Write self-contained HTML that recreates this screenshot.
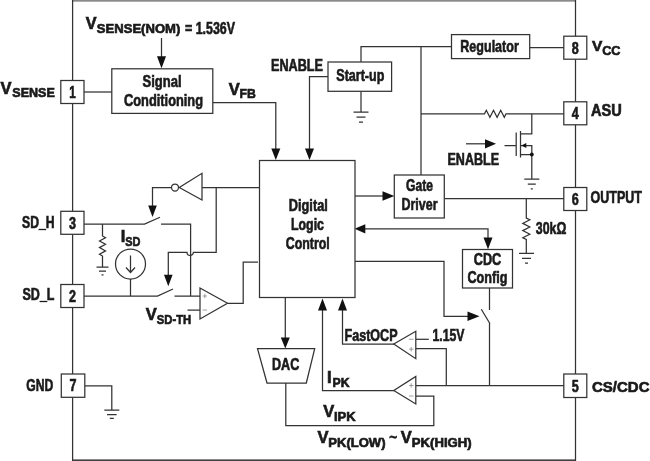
<!DOCTYPE html>
<html>
<head>
<meta charset="utf-8">
<title>Block Diagram</title>
<style>
html,body{margin:0;padding:0;background:#fff;}
body{width:650px;height:461px;overflow:hidden;}
svg{display:block;}
text{font-family:"Liberation Sans",sans-serif;font-weight:bold;fill:#1a1a1a;stroke:#1a1a1a;stroke-width:0.65;}
.w{fill:none;stroke:#333;stroke-width:1.25;}
.b{fill:#fff;stroke:#333;stroke-width:1.25;}
.a{fill:#111;stroke:none;}
.t{fill:none;stroke:#888;stroke-width:0.8;}
</style>
</head>
<body>
<svg style="will-change:transform" width="650" height="461" viewBox="0 0 650 461">
<rect x="0" y="0" width="650" height="461" fill="#fff"/>

<!-- outer frame -->
<g id="frame">
<rect x="72" y="0" width="504" height="1.7" fill="#8a8a8a"/>
<rect x="72" y="459.4" width="504" height="1.6" fill="#404040"/>
<line class="w" x1="72.6" y1="0" x2="72.6" y2="461" stroke="#505050"/>
<line class="w" x1="575.5" y1="0" x2="575.5" y2="461" stroke="#505050"/>
</g>

<!-- wires -->
<g id="wires">
<!-- pin1 to signal conditioning -->
<path class="w" d="M84 92H112"/>
<!-- nominal arrow -->
<path class="w" d="M161.5 38V57"/>
<path class="a" d="M157 56.3H166L161.5 68.3Z"/>
<!-- VFB -->
<path class="w" d="M213 102.5H275.8V150"/>
<path class="a" d="M271.3 148.5H280.3L275.8 160Z"/>
<!-- enable to logic -->
<path class="w" d="M328 76.5H309.5V150"/>
<path class="a" d="M305 148.5H314L309.5 160Z"/>
<!-- startup top to regulator -->
<path class="w" d="M361 62V46.5H452"/>
<!-- startup ground -->
<path class="w" d="M361 91.5V112M353.5 112H368.5M356.5 117H365.5M359 122H363"/>
<!-- bus vertical -->
<path class="w" d="M421 46.5V175"/>
<!-- regulator to pin 8 -->
<path class="w" d="M530 47.5H564"/>
<!-- ASU line w/ resistor -->
<path class="w" d="M421 113.8H484.5L486.3 110.3L489.9 117.3L493.5 110.3L497.1 117.3L500.7 110.3L504.3 117.3L506 113.8H564"/>
<!-- mosfet -->
<path class="w" d="M531.8 113.8V133.8H520.5M520.5 131V157.5M516.2 132.5V156M504.5 145.5H516.2M520.5 154.5H531.8M520.5 145.5H531.8V179.2M524.3 179.2H539.3M527.8 184.2H535.8M530.8 188.8H532.8"/>
<path class="a" d="M521.3 145.5L526.3 143V148Z"/>
<circle class="a" cx="531.8" cy="154.5" r="1.9"/>
<!-- ENABLE arrow -->
<path class="w" d="M466 143.8H486"/>
<path class="a" d="M485 139.2V148.4L496 143.8Z"/>
<!-- logic to gate driver -->
<path class="w" d="M355 196H384"/>
<path class="a" d="M382.5 191.2V200.8L394.3 196Z"/>
<!-- gate driver to output -->
<path class="w" d="M444.5 198.5H564"/>
<!-- 30k resistor -->
<path class="w" d="M526.3 198.5V218L529.8 219.8L522.8 223.4L529.8 227L522.8 230.6L529.8 234.2L522.8 237.8L526.3 239.5V253.3M519 253.3H534M522 258.3H531M525 263H528"/>
<!-- logic <-> CDC -->
<path class="w" d="M364 228.8H488V239"/>
<path class="a" d="M354.6 228.8L365.3 224.2V233.4Z"/>
<path class="a" d="M483.5 237.5H492.5L488 249.3Z"/>
<!-- logic to switch control -->
<path class="w" d="M355 261.3H444V316.3H469"/>
<path class="a" d="M467.5 311.6V321L479.5 316.3Z"/>
<!-- CDC switch -->
<path class="w" d="M489.5 288V310M481.3 309.3L490 323.8M489.5 323.5V385.5"/>
<!-- pin 5 line -->
<path class="w" d="M416 385.5H564"/>
<!-- fastocp + input -->
<path class="w" d="M416 348.7H446.3V385.5"/>
<!-- 1.15V input -->
<path class="w" d="M416 339.3H428.8"/>
<!-- fastocp out -->
<path class="w" d="M394 344H342.5V309"/>
<path class="a" d="M338 310.5H347L342.5 298.5Z"/>
<!-- IPK out -->
<path class="w" d="M394 390.5H322.5V309"/>
<path class="a" d="M318 310.5H327L322.5 298.5Z"/>
<!-- logic to DAC -->
<path class="w" d="M285.3 297.5V339"/>
<path class="a" d="M280.8 337.5H289.8L285.3 348.5Z"/>
<!-- DAC out to comparator - -->
<path class="w" d="M285.8 383V425.5H433.8V396H416"/>
<!-- inverter -->
<path class="w" d="M259.5 187.5H202M171.5 187.5H152.5V207"/>
<path class="a" d="M148.2 205.5H156.8L152.5 217Z"/>
<!-- inverter branch down to lower switch -->
<path class="w" d="M216.2 187.5V252.3H193.4A3.2 3.2 0 0 1 187 252.3H168.3V277"/>
<path class="a" d="M164 274.8H172.6L168.3 286.3Z"/>
<!-- upper switch -->
<path class="w" d="M84 224H144.5L160 217.3M161 224H190.6V296"/>
<!-- lower switch -->
<path class="w" d="M84 296H157.5L173 289M174.5 296H200M187.5 310H200"/>
<!-- comparator out -->
<path class="w" d="M227.5 303.3H243.2V262H258"/>
<!-- pull-down resistor -->
<path class="w" d="M102.5 224V236L105.5 237.7L99.5 241L105.5 244.3L99.5 247.6L105.5 250.9L99.5 254.2L102.5 256V267M96.5 267H108.5M99 271H106M101.5 274.8H103.5"/>
<!-- current source -->
<path class="w" d="M130.5 279V296"/>
<!-- gnd pin -->
<path class="w" d="M85 385.8H111.8V410M104.3 410H119.3M107 414.5H116.6M109.8 418.3H113.8"/>
</g>

<!-- blocks -->
<g id="blocks">
<rect class="b" x="111.8" y="68.8" width="101" height="44.6"/>
<rect class="b" x="328" y="62" width="63.6" height="29.3"/>
<rect class="b" x="451.5" y="34.6" width="78.2" height="24"/>
<rect class="b" x="259.5" y="160.5" width="95.5" height="137"/>
<rect class="b" x="394.3" y="175" width="50" height="43"/>
<rect class="b" x="462.5" y="249.5" width="50" height="38.5"/>
<path class="b" d="M257.5 348.6H314.7L306.3 383H267Z"/>
<!-- inverter -->
<path class="b" d="M202 173.3V200L179.3 187.5Z"/>
<circle class="b" cx="175" cy="187.5" r="3.5"/>
<!-- SD comparator -->
<path class="b" d="M200 288V319L227.5 303.3Z"/>
<path class="t" d="M202.5 296H207M204.8 293.7V298.3M202.5 310H207"/>
<!-- fastOCP comparator -->
<path class="b" d="M415.8 331.3V358.7L393.8 344Z"/>
<path class="t" d="M409 339.3H413.5M409 349.2H413.5M411.2 347V351.4"/>
<!-- IPK comparator -->
<path class="b" d="M415.8 376.5V404L393.8 390.5Z"/>
<path class="t" d="M409 385.5H413.5M411.2 383.3V387.7M409 396H413.5"/>
<!-- current source -->
<circle class="b" cx="130.5" cy="264" r="15"/>
<path class="w" d="M130.5 255.5V272M126 267.5L130.5 272.5L135 267.5"/>
</g>

<!-- pins -->
<g id="pins">
<rect class="b" x="60.8" y="80.5" width="23.2" height="23"/>
<rect class="b" x="60.8" y="211.3" width="23.2" height="23"/>
<rect class="b" x="60.8" y="284.5" width="23.2" height="23"/>
<rect class="b" x="61.3" y="374" width="23.5" height="23.3"/>
<rect class="b" x="563.8" y="36.2" width="23" height="23"/>
<rect class="b" x="563.8" y="101.8" width="23" height="23"/>
<rect class="b" x="563.8" y="187.5" width="23" height="23"/>
<rect class="b" x="563.8" y="374" width="23" height="23.5"/>
</g>

<!-- text -->
<g id="labels">
<text x="72.4" y="97.8" font-size="16.6" text-anchor="middle" textLength="6.5" lengthAdjust="spacingAndGlyphs">1</text>
<text x="72.4" y="228.6" font-size="16.6" text-anchor="middle" textLength="7" lengthAdjust="spacingAndGlyphs">3</text>
<text x="72.4" y="301.8" font-size="16.6" text-anchor="middle" textLength="7" lengthAdjust="spacingAndGlyphs">2</text>
<text x="73" y="391.3" font-size="16.6" text-anchor="middle" textLength="7" lengthAdjust="spacingAndGlyphs">7</text>
<text x="575.3" y="53.5" font-size="16.6" text-anchor="middle" textLength="7" lengthAdjust="spacingAndGlyphs">8</text>
<text x="575.3" y="119" font-size="16.6" text-anchor="middle" textLength="7" lengthAdjust="spacingAndGlyphs">4</text>
<text x="575.3" y="204.8" font-size="16.6" text-anchor="middle" textLength="7" lengthAdjust="spacingAndGlyphs">6</text>
<text x="575.3" y="391.5" font-size="16.6" text-anchor="middle" textLength="7" lengthAdjust="spacingAndGlyphs">5</text>

<text x="0.6" y="93.7" font-size="16.5">V</text><text x="12.3" y="96.8" font-size="12.5" textLength="42.5" lengthAdjust="spacingAndGlyphs">SENSE</text>
<text x="22" y="228.3" font-size="16.6" textLength="32.5" lengthAdjust="spacingAndGlyphs">SD_H</text>
<text x="22.5" y="300.3" font-size="16.6" textLength="32" lengthAdjust="spacingAndGlyphs">SD_L</text>
<text x="26.3" y="390.5" font-size="16.6" textLength="27" lengthAdjust="spacingAndGlyphs">GND</text>

<text x="592" y="51.3" font-size="15.5">V</text><text x="602.2" y="55.2" font-size="13" textLength="18.3" lengthAdjust="spacingAndGlyphs">CC</text>
<text x="591" y="115.9" font-size="16.3" textLength="30.8" lengthAdjust="spacingAndGlyphs">ASU</text>
<text x="590.5" y="203" font-size="16.6" textLength="51.5" lengthAdjust="spacingAndGlyphs">OUTPUT</text>
<text x="592" y="391.6" font-size="15">CS/CDC</text>

<text x="85.7" y="29" font-size="16.2">V</text><text x="96.8" y="33" font-size="12.8" textLength="83.5" lengthAdjust="spacingAndGlyphs">SENSE(NOM)</text>
<text x="185" y="34" font-size="16.6" textLength="50" lengthAdjust="spacingAndGlyphs">= 1.536V</text>

<text x="162" y="87" font-size="16.6" text-anchor="middle" textLength="39" lengthAdjust="spacingAndGlyphs">Signal</text>
<text x="163.5" y="105.6" font-size="16.6" text-anchor="middle" textLength="79" lengthAdjust="spacingAndGlyphs">Conditioning</text>
<text x="228.7" y="94.8" font-size="16.5">V</text><text x="239.5" y="98.2" font-size="12.5" textLength="16.3" lengthAdjust="spacingAndGlyphs">FB</text>

<text x="271" y="70.7" font-size="15.8" textLength="52" lengthAdjust="spacingAndGlyphs">ENABLE</text>
<text x="336.3" y="81" font-size="17" textLength="48" lengthAdjust="spacingAndGlyphs">Start-up</text>
<text x="460.3" y="52.2" font-size="16.3" textLength="58.5" lengthAdjust="spacingAndGlyphs">Regulator</text>
<text x="447.5" y="164.5" font-size="16.6" textLength="51.5" lengthAdjust="spacingAndGlyphs">ENABLE</text>

<text x="288.8" y="210.7" font-size="16.6" textLength="39" lengthAdjust="spacingAndGlyphs">Digital</text>
<text x="291" y="230" font-size="16.6" textLength="33" lengthAdjust="spacingAndGlyphs">Logic</text>
<text x="285.8" y="248.7" font-size="16.6" textLength="44" lengthAdjust="spacingAndGlyphs">Control</text>

<text x="419.5" y="191" font-size="16.6" text-anchor="middle" textLength="27" lengthAdjust="spacingAndGlyphs">Gate</text>
<text x="419.5" y="209.5" font-size="16.6" text-anchor="middle" textLength="36" lengthAdjust="spacingAndGlyphs">Driver</text>
<text x="535.8" y="234.3" font-size="16.6" textLength="30.5" lengthAdjust="spacingAndGlyphs">30kΩ</text>

<text x="487.5" y="264.5" font-size="16.6" text-anchor="middle" textLength="27.5" lengthAdjust="spacingAndGlyphs">CDC</text>
<text x="487.5" y="282.5" font-size="16.6" text-anchor="middle" textLength="40" lengthAdjust="spacingAndGlyphs">Config</text>

<text x="120.8" y="242" font-size="16.5">I</text><text x="125.3" y="245.5" font-size="12.5" textLength="15.2" lengthAdjust="spacingAndGlyphs">SD</text>
<text x="145.8" y="320" font-size="16.5">V</text><text x="156.8" y="323.6" font-size="12.5" textLength="34.4" lengthAdjust="spacingAndGlyphs">SD-TH</text>

<text x="272" y="370" font-size="16.6" textLength="27.3" lengthAdjust="spacingAndGlyphs">DAC</text>
<text x="344.5" y="340.5" font-size="16.6" textLength="53" lengthAdjust="spacingAndGlyphs">FastOCP</text>
<text x="432.5" y="340.5" font-size="16.6" textLength="32" lengthAdjust="spacingAndGlyphs">1.15V</text>
<text x="327" y="383" font-size="16.5">I</text><text x="332.5" y="386.5" font-size="12.5" textLength="17" lengthAdjust="spacingAndGlyphs">PK</text>
<text x="323.3" y="417.2" font-size="16.5">V</text><text x="334" y="420.8" font-size="12.5" textLength="21.7" lengthAdjust="spacingAndGlyphs">IPK</text>
<text x="317.5" y="442.9" font-size="16.5">V</text><text x="328.3" y="446.6" font-size="12.5" textLength="57.2" lengthAdjust="spacingAndGlyphs">PK(LOW)</text><text x="389.3" y="442.3" font-size="13.5">~</text><text x="400.8" y="442.9" font-size="16.5">V</text><text x="411.8" y="446.6" font-size="12.5" textLength="59.8" lengthAdjust="spacingAndGlyphs">PK(HIGH)</text>
</g>
</svg>
</body>
</html>
